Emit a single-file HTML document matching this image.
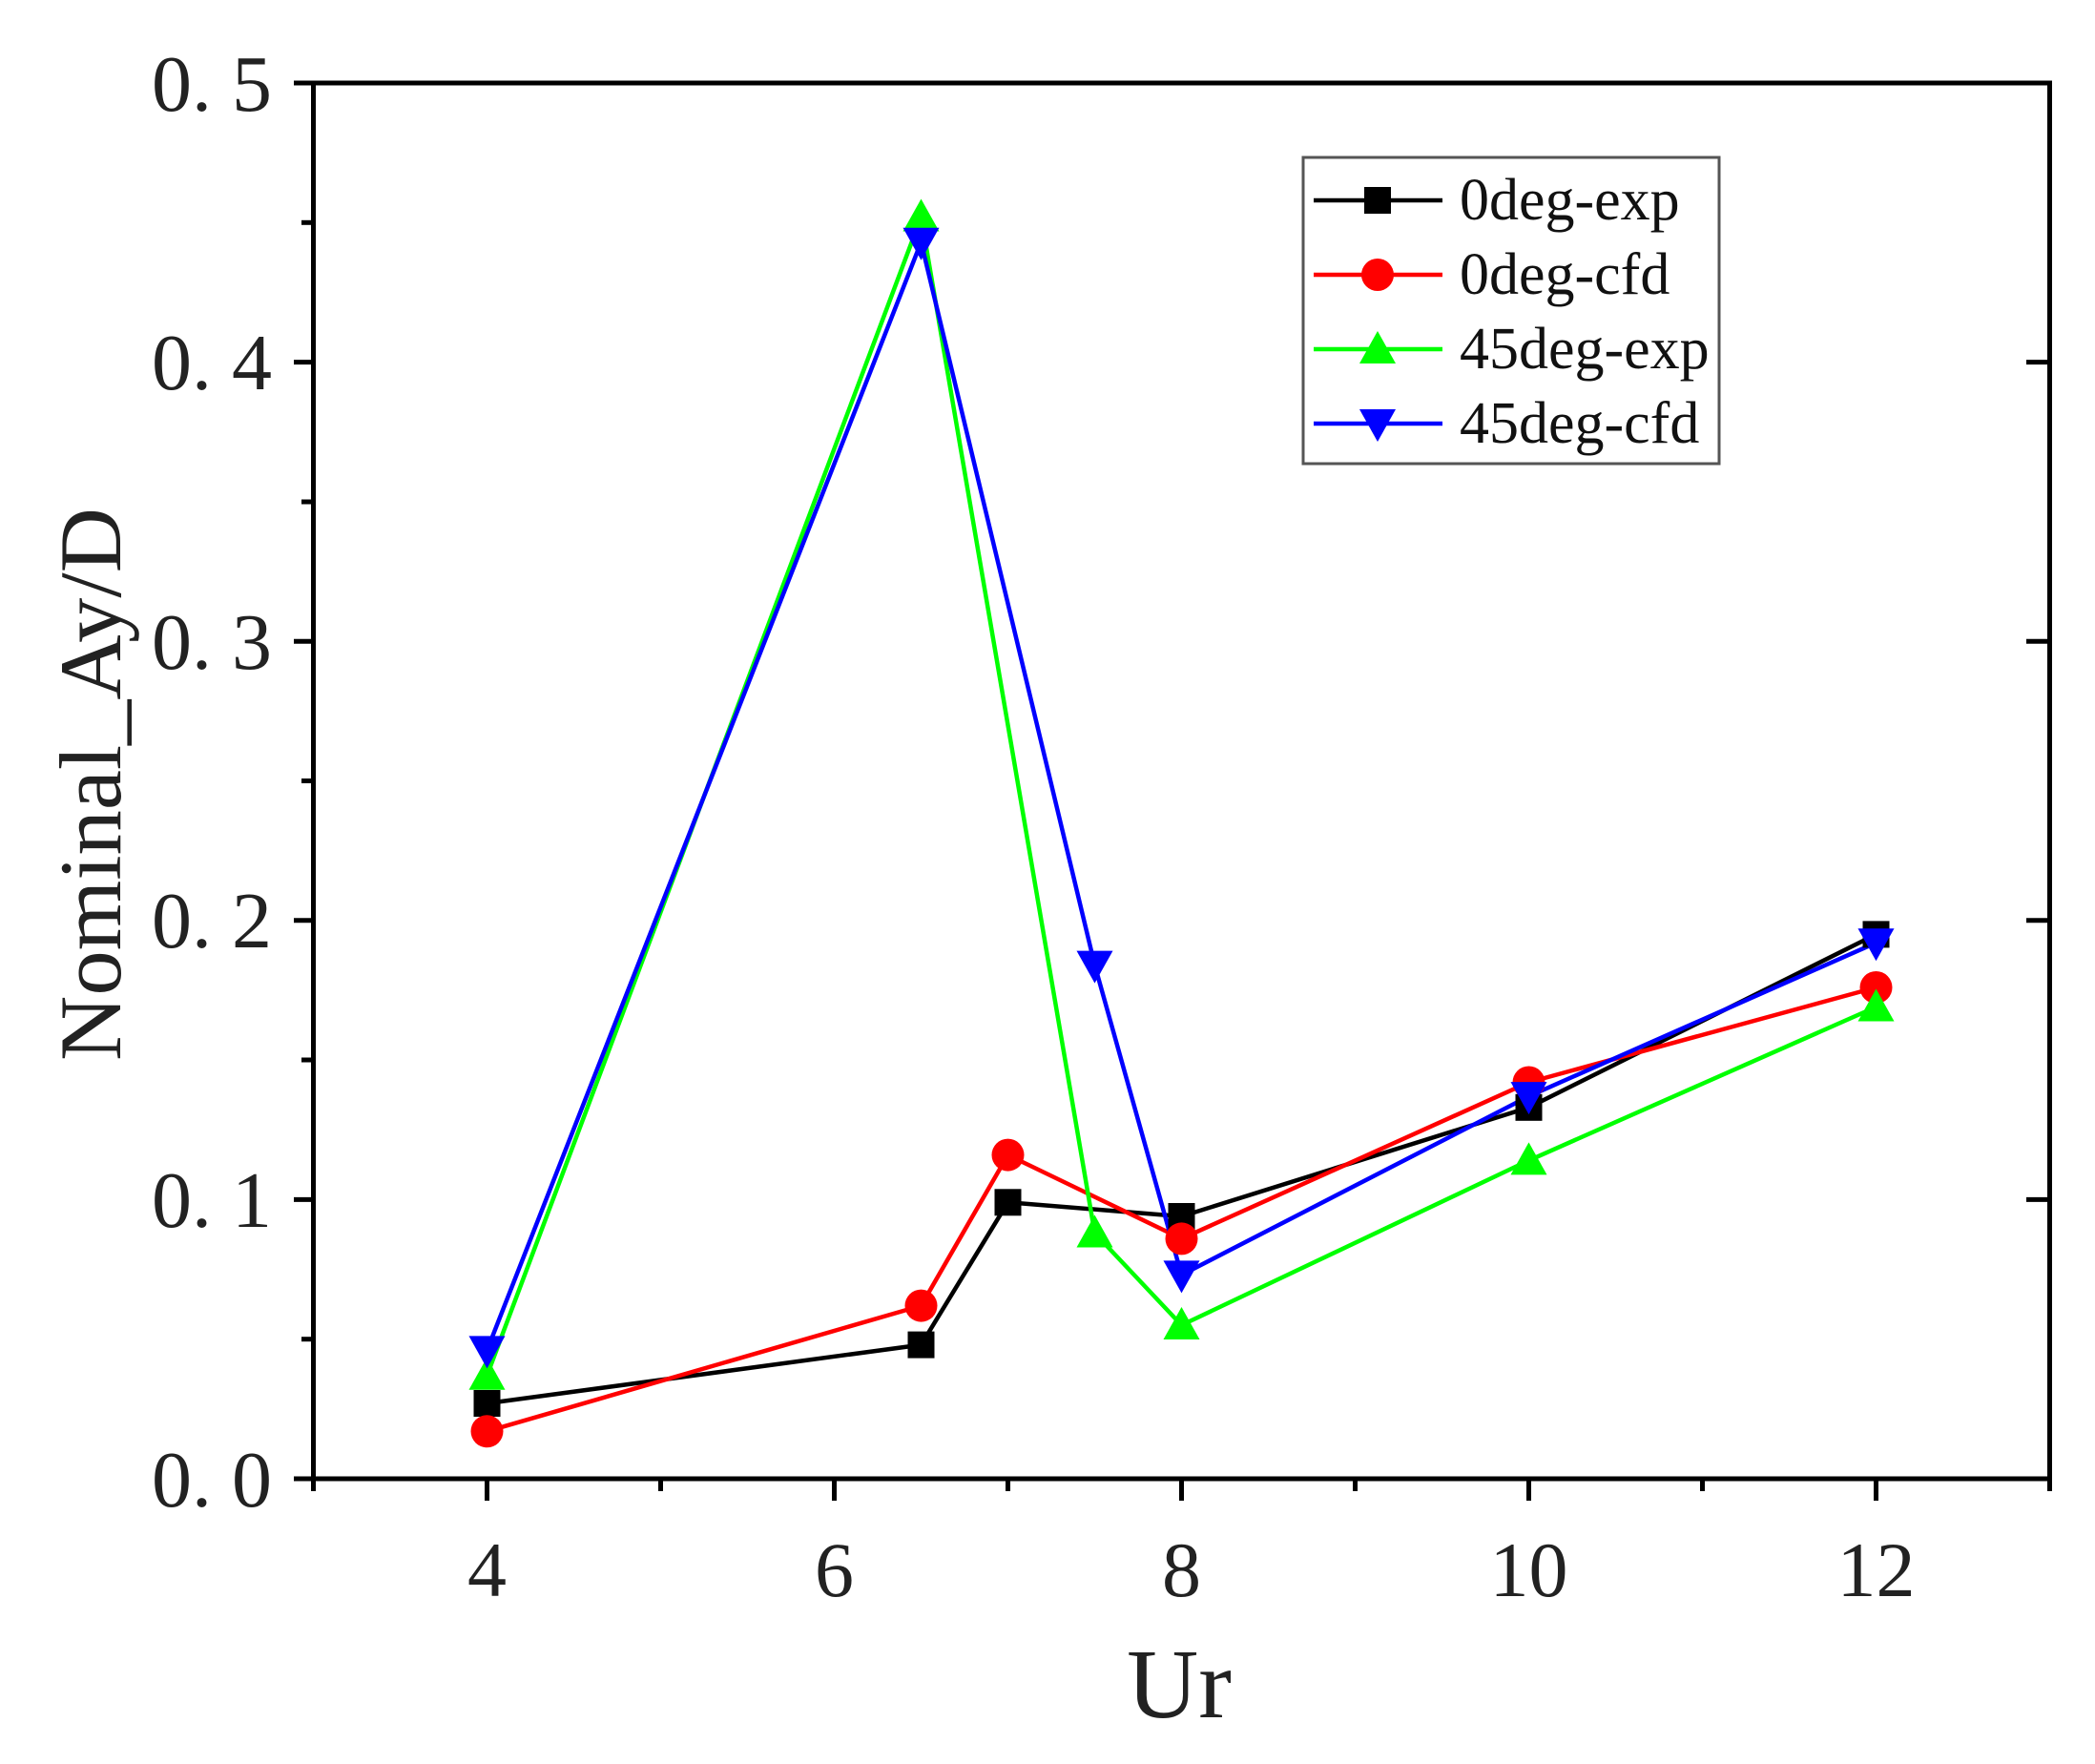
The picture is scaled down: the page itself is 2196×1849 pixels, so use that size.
<!DOCTYPE html>
<html><head><meta charset="utf-8"><style>html,body{margin:0;padding:0;background:#fff}svg{display:block}</style></head>
<body>
<svg width="2196" height="1849" viewBox="0 0 2196 1849" xmlns="http://www.w3.org/2000/svg" font-family="Liberation Serif, serif">
<rect width="2196" height="1849" fill="#fff"/>
<g fill="none" stroke-width="4.5" stroke-linejoin="round">
<polyline stroke="#000" points="510.5,1471 965.5,1409.6 1056.5,1260.3 1238.5,1275 1602.5,1160.8 1966.5,979.4"/>
<polyline stroke="#f00" points="510.5,1500.3 965.5,1368.6 1056.5,1210.6 1238.5,1298.4 1602.5,1134.5 1966.5,1035"/>
<polyline stroke="#0f0" points="510.5,1441.7 965.5,227.5 1147.5,1292.5 1238.5,1389 1602.5,1216.4 1966.5,1055.5"/>
<polyline stroke="#00f" points="510.5,1415.4 965.5,253.8 1147.5,1011.6 1238.5,1336.4 1602.5,1149.1 1966.5,988.2"/>
</g>
<defs>
<rect id="sq" x="-14" y="-14" width="28" height="28" fill="#000"/>
<circle id="ci" r="17" fill="#f00"/>
<polygon id="tu" points="0,-19 19,15 -19,15" fill="#0f0"/>
<polygon id="td" points="0,19 19,-15 -19,-15" fill="#00f"/>
</defs>
<g>
<use href="#sq" x="510.5" y="1471"/><use href="#sq" x="965.5" y="1409.6"/><use href="#sq" x="1056.5" y="1260.3"/><use href="#sq" x="1238.5" y="1275"/><use href="#sq" x="1602.5" y="1160.8"/><use href="#sq" x="1966.5" y="979.4"/>
<use href="#ci" x="510.5" y="1500.3"/><use href="#ci" x="965.5" y="1368.6"/><use href="#ci" x="1056.5" y="1210.6"/><use href="#ci" x="1238.5" y="1298.4"/><use href="#ci" x="1602.5" y="1134.5"/><use href="#ci" x="1966.5" y="1035"/>
<use href="#tu" x="510.5" y="1441.7"/><use href="#tu" x="965.5" y="227.5"/><use href="#tu" x="1147.5" y="1292.5"/><use href="#tu" x="1238.5" y="1389"/><use href="#tu" x="1602.5" y="1216.4"/><use href="#tu" x="1966.5" y="1055.5"/>
<use href="#td" x="510.5" y="1415.4"/><use href="#td" x="965.5" y="253.8"/><use href="#td" x="1147.5" y="1011.6"/><use href="#td" x="1238.5" y="1336.4"/><use href="#td" x="1602.5" y="1149.1"/><use href="#td" x="1966.5" y="988.2"/>
</g>
<rect x="328.5" y="87" width="1820" height="1463" fill="none" stroke="#000" stroke-width="5"/>
<g stroke="#000" stroke-width="5">
<line x1="308" y1="1550" x2="328.5" y2="1550"/><line x1="308" y1="1257.4" x2="328.5" y2="1257.4"/><line x1="308" y1="964.8" x2="328.5" y2="964.8"/><line x1="308" y1="672.2" x2="328.5" y2="672.2"/><line x1="308" y1="379.6" x2="328.5" y2="379.6"/><line x1="308" y1="87" x2="328.5" y2="87"/>
<line x1="316" y1="1403.7" x2="328.5" y2="1403.7"/><line x1="316" y1="1111" x2="328.5" y2="1111"/><line x1="316" y1="818.5" x2="328.5" y2="818.5"/><line x1="316" y1="526" x2="328.5" y2="526"/><line x1="316" y1="233.3" x2="328.5" y2="233.3"/>
<line x1="2124" y1="1257.4" x2="2148.5" y2="1257.4"/><line x1="2124" y1="964.8" x2="2148.5" y2="964.8"/><line x1="2124" y1="672.2" x2="2148.5" y2="672.2"/><line x1="2124" y1="379.6" x2="2148.5" y2="379.6"/>
<line x1="510.5" y1="1550" x2="510.5" y2="1573"/><line x1="874.5" y1="1550" x2="874.5" y2="1573"/><line x1="1238.5" y1="1550" x2="1238.5" y2="1573"/><line x1="1602.5" y1="1550" x2="1602.5" y2="1573"/><line x1="1966.5" y1="1550" x2="1966.5" y2="1573"/>
<line x1="328.5" y1="1550" x2="328.5" y2="1563"/><line x1="692.5" y1="1550" x2="692.5" y2="1563"/><line x1="1056.5" y1="1550" x2="1056.5" y2="1563"/><line x1="1420.5" y1="1550" x2="1420.5" y2="1563"/><line x1="1784.5" y1="1550" x2="1784.5" y2="1563"/><line x1="2148.5" y1="1550" x2="2148.5" y2="1563"/>
</g>
<g font-size="84" fill="#222" text-anchor="end">
<text x="285" y="1579">0. 0</text><text x="285" y="1286">0. 1</text><text x="285" y="993">0. 2</text><text x="285" y="701">0. 3</text><text x="285" y="408">0. 4</text><text x="285" y="116">0. 5</text>
</g>
<g font-size="82" fill="#222" text-anchor="middle">
<text x="510.5" y="1673">4</text><text x="874.5" y="1673">6</text><text x="1238.5" y="1673">8</text><text x="1602.5" y="1673">10</text><text x="1966.5" y="1673">12</text>
</g>
<text x="1236" y="1800" font-size="104" fill="#222" text-anchor="middle">Ur</text>
<text transform="translate(126,822) rotate(-90)" font-size="92" fill="#222" text-anchor="middle" textLength="580" lengthAdjust="spacingAndGlyphs">Nominal_Ay/D</text>
<rect x="1366" y="165" width="436" height="321" fill="#fff" stroke="#555" stroke-width="3"/>
<g stroke-width="4.5">
<line x1="1377" y1="210" x2="1512" y2="210" stroke="#000"/>
<line x1="1377" y1="288" x2="1512" y2="288" stroke="#f00"/>
<line x1="1377" y1="366" x2="1512" y2="366" stroke="#0f0"/>
<line x1="1377" y1="444" x2="1512" y2="444" stroke="#00f"/>
</g>
<use href="#sq" x="1444" y="210"/><use href="#ci" x="1444" y="288"/><use href="#tu" x="1444" y="366"/><use href="#td" x="1444" y="444"/>
<g font-size="62" fill="#111">
<text x="1530" y="230">0deg-exp</text>
<text x="1530" y="308">0deg-cfd</text>
<text x="1530" y="386">45deg-exp</text>
<text x="1530" y="464">45deg-cfd</text>
</g>
</svg>
</body></html>
